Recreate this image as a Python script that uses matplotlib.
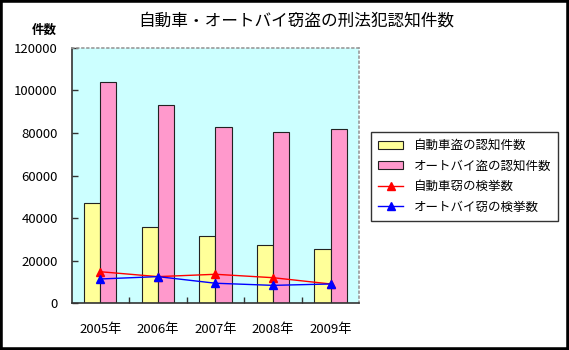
import matplotlib.pyplot as plt
import matplotlib.patches as mpatches
from matplotlib.lines import Line2D
import numpy as np

plt.rcParams['font.family'] = ['Noto Sans CJK JP', 'DejaVu Sans']

years = ['2005年', '2006年', '2007年', '2008年', '2009年']
car_theft = [47000, 35700, 31700, 27600, 25400]
bike_theft = [104000, 93100, 82900, 80300, 81700]
car_arrests = [14900, 12600, 13700, 12100, 9150]
bike_arrests = [11500, 12600, 9500, 8500, 9150]

fig = plt.figure(figsize=(5.69, 3.5), dpi=100)
ax = fig.add_axes([0.1257, 0.1329, 0.5058, 0.7309])
ax.set_facecolor('#CCFFFF')

x = np.arange(len(years))
w = 0.28
ax.bar(x - w / 2, car_theft, w, color='#FFFF99', edgecolor='#222222', linewidth=0.8, zorder=2)
ax.bar(x + w / 2, bike_theft, w, color='#FF99CC', edgecolor='#222222', linewidth=0.8, zorder=2)
ax.plot(x, car_arrests, color='red', lw=1.0, marker='^', ms=5.5, zorder=3)
ax.plot(x, bike_arrests, color='blue', lw=1.0, marker='^', ms=5.5, zorder=4)

ax.set_xlim(-0.5, 4.5)
ax.set_ylim(0, 120000)
ax.set_yticks(range(0, 120001, 20000))
ax.set_yticklabels([str(v) for v in range(0, 120001, 20000)], fontsize=9.5)
ax.set_xticks(x)
ax.set_xticklabels(years, fontsize=9.5)
ax.set_xticks(x[:-1] + 0.5, minor=True)
ax.tick_params(axis='x', which='major', length=0, pad=14)
ax.tick_params(axis='x', which='minor', direction='in', length=4, width=1, color='#333333')
ax.tick_params(axis='y', direction='in', length=4, width=1, color='#333333', pad=10)

for side in ('left', 'bottom'):
    ax.spines[side].set_color('#333333')
    ax.spines[side].set_linewidth(1.2)
for side in ('top', 'right'):
    ax.spines[side].set_color('#999999')
    ax.spines[side].set_linestyle((0, (1, 2)))
    ax.spines[side].set_linewidth(1.2)

fig.text(0.52, 0.94, '自動車・オートバイ窃盗の刑法犯認知件数', ha='center', va='center', fontsize=12)
fig.text(0.1, 0.912, '件数', ha='right', va='center', fontsize=9, fontweight='bold')

handles = [
    mpatches.Patch(facecolor='#FFFF99', edgecolor='#222222', linewidth=0.8),
    mpatches.Patch(facecolor='#FF99CC', edgecolor='#222222', linewidth=0.8),
    Line2D([], [], color='red', lw=1.0, marker='^', ms=5.5),
    Line2D([], [], color='blue', lw=1.0, marker='^', ms=5.5),
]
labels = ['自動車盗の認知件数', 'オートバイ盗の認知件数', '自動車窃の検挙数', 'オートバイ窃の検挙数']
leg = fig.legend(handles, labels, loc='upper left', bbox_to_anchor=(0.652, 0.624),
                 fontsize=9, frameon=True, fancybox=False, borderpad=0.6,
                 handlelength=2.0, handleheight=0.6, labelspacing=0.6, handletextpad=0.8,
                 borderaxespad=0)
leg.get_frame().set_edgecolor('black')
leg.get_frame().set_linewidth(1.0)

fig.patches.append(mpatches.Rectangle((0, 0), 1, 1, transform=fig.transFigure,
                                      fill=False, edgecolor='black', linewidth=4))

fig.savefig('out.png', dpi=100)
